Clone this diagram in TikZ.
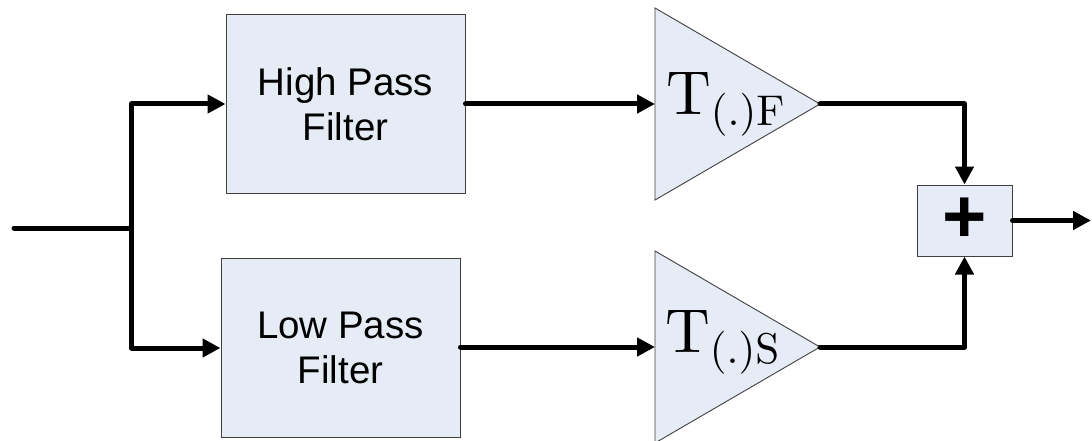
\documentclass[tikz,border=0pt]{standalone}
\usepackage{fontspec}
\newfontfamily\arial{Liberation Sans}
\usetikzlibrary{arrows.meta}
\definecolor{boxfill}{RGB}{230,236,246}
\definecolor{edge}{RGB}{64,64,64}
% Computer Modern at display size for the gain labels
\font\gainbig=cmr10 at 62pt
\font\gainsmall=cmr10 at 43pt
\newcommand\gainlabel[1]{\gainbig T\gainsmall\raisebox{-11pt}{(.)#1}}
\tikzset{
  block/.style={draw=edge, line width=1pt, fill=boxfill, inner sep=0pt,
    align=center, font=\arial\fontsize{38.5}{45}\selectfont},
  amp/.style={draw=edge, line width=0.9pt, fill=boxfill, line join=miter},
  gain/.style={anchor=base west, inner sep=0pt},
  wire/.style={line width=5pt, line cap=round, line join=round},
  flow/.style={wire, -{Triangle[length=18pt,width=18pt]}},
}
\begin{document}
\begin{tikzpicture}[x=1pt,y=-1pt]
\useasboundingbox (0,0) rectangle (1092,441);

% filter blocks
\node[block, minimum width=239pt, minimum height=178pt] (hpf) at (345.5,104) {High Pass\\Filter};
\node[block, minimum width=239pt, minimum height=179pt] (lpf) at (340.5,348) {Low Pass\\Filter};

% gain stages (triangles)
\draw[amp] (655,8) -- (820,104) -- (655,200) -- cycle;
\draw[amp] (655,251) -- (820,347) -- (655,443) -- cycle;
\coordinate (tfin) at (655,104);
\coordinate (tfout) at (820,104);
\coordinate (tsin) at (655,347);
\coordinate (tsout) at (820,347);
\node[gain] (tflabel) at (666,115) {\gainlabel{F}};
\node[gain] (tslabel) at (665,352) {\gainlabel{S}};

% summing junction
\node[block, minimum width=95pt, minimum height=71pt,
  font=\arial\bfseries\fontsize{76}{76}\selectfont] (sum) at (964.5,220.5) {+};

% input split
\coordinate (in) at (14,228);
\coordinate (split) at (131.5,228);
\coordinate (out) at (1091,220.5);

\draw[wire] (in) -- (split);
\draw[flow] (split) |- (hpf.west);
\draw[flow] (split) |- (lpf.west);
\draw[flow] (hpf.east) -- (tfin);
\draw[flow] (lpf.east |- tsin) -- (tsin);
\draw[flow] (tfout) -| (sum.north);
\draw[flow] (tsout) -| (sum.south);
\draw[flow] (sum.east) -- (out);
\end{tikzpicture}
\end{document}
